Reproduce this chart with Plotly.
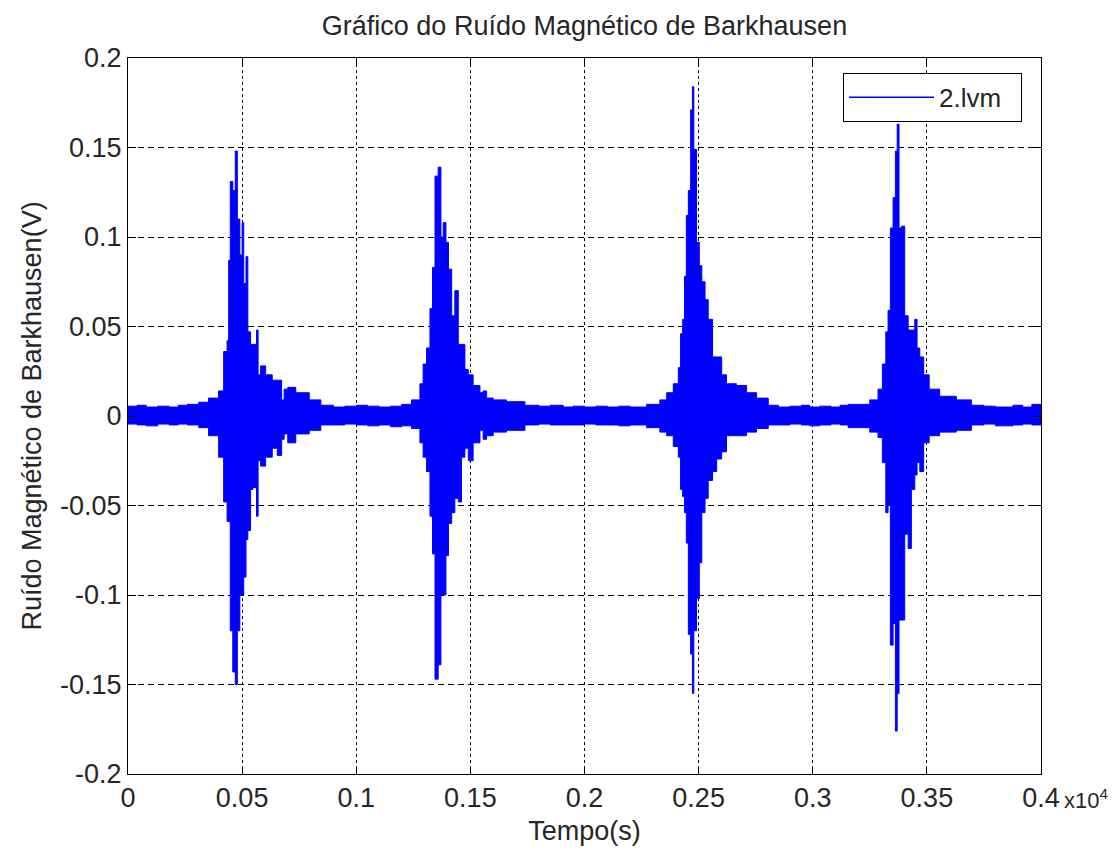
import plotly.graph_objects as go

# Envelope of the Barkhausen noise signal (time in units of 1e4 s as shown)
time_s = [
    0.0000, 0.0040, 0.0080, 0.0130, 0.0180, 0.0220, 0.0260, 0.0310, 0.0353, 0.0397,
    0.0419, 0.0434, 0.0441, 0.0448, 0.0459, 0.0470, 0.0479, 0.0490, 0.0500, 0.0507,
    0.0517, 0.0525, 0.0537, 0.0547, 0.0563, 0.0570, 0.0581, 0.0603, 0.0632, 0.0654,
    0.0673, 0.0684, 0.0700, 0.0735, 0.0794, 0.0845, 0.0900, 0.0950, 0.1000, 0.1050,
    0.1100, 0.1150, 0.1199, 0.1242, 0.1279, 0.1293, 0.1308, 0.1323, 0.1334, 0.1345,
    0.1359, 0.1371, 0.1381, 0.1393, 0.1404, 0.1418, 0.1432, 0.1447, 0.1461, 0.1476,
    0.1491, 0.1512, 0.1542, 0.1556, 0.1571, 0.1600, 0.1658, 0.1739, 0.1800, 0.1850,
    0.1907, 0.1950, 0.2000, 0.2050, 0.2100, 0.2150, 0.2200, 0.2272, 0.2330, 0.2360,
    0.2389, 0.2411, 0.2421, 0.2430, 0.2438, 0.2446, 0.2455, 0.2465, 0.2473, 0.2479,
    0.2491, 0.2503, 0.2514, 0.2528, 0.2542, 0.2561, 0.2579, 0.2601, 0.2622, 0.2666,
    0.2710, 0.2754, 0.2805, 0.2850, 0.2900, 0.2950, 0.2987, 0.3030, 0.3080, 0.3120,
    0.3155, 0.3250, 0.3286, 0.3305, 0.3320, 0.3330, 0.3340, 0.3352, 0.3362, 0.3370,
    0.3378, 0.3388, 0.3403, 0.3418, 0.3432, 0.3447, 0.3457, 0.3469, 0.3486, 0.3510,
    0.3556, 0.3629, 0.3695, 0.3750, 0.3800, 0.3877, 0.3920, 0.3960, 0.4000,
]

upper_v = [
    0.0055, 0.0060, 0.0050, 0.0055, 0.0050, 0.0060, 0.0065, 0.0077, 0.0100, 0.0140,
    0.0360, 0.0420, 0.0870, 0.1310, 0.1260, 0.1480, 0.1100, 0.0900, 0.1080, 0.0740,
    0.0890, 0.0470, 0.0400, 0.0400, 0.0480, 0.0230, 0.0280, 0.0230, 0.0200, 0.0200,
    0.0090, 0.0150, 0.0160, 0.0130, 0.0090, 0.0060, 0.0050, 0.0055, 0.0060, 0.0055,
    0.0050, 0.0055, 0.0065, 0.0090, 0.0180, 0.0290, 0.0380, 0.0600, 0.0830, 0.1340,
    0.1390, 0.1000, 0.1080, 0.0970, 0.0820, 0.0560, 0.0700, 0.0400, 0.0400, 0.0260,
    0.0230, 0.0170, 0.0130, 0.0140, 0.0100, 0.0090, 0.0080, 0.0060, 0.0055, 0.0060,
    0.0050, 0.0055, 0.0050, 0.0055, 0.0050, 0.0055, 0.0050, 0.0065, 0.0090, 0.0130,
    0.0180, 0.0270, 0.0460, 0.0540, 0.0780, 0.1120, 0.1260, 0.1710, 0.1840, 0.1490,
    0.0970, 0.0840, 0.0750, 0.0650, 0.0540, 0.0330, 0.0330, 0.0230, 0.0180, 0.0170,
    0.0130, 0.0100, 0.0060, 0.0050, 0.0055, 0.0060, 0.0050, 0.0055, 0.0050, 0.0060,
    0.0065, 0.0090, 0.0150, 0.0290, 0.0470, 0.0590, 0.1050, 0.1220, 0.1480, 0.1630,
    0.1050, 0.1060, 0.0560, 0.0480, 0.0480, 0.0540, 0.0380, 0.0330, 0.0230, 0.0150,
    0.0110, 0.0090, 0.0060, 0.0055, 0.0050, 0.0060, 0.0050, 0.0065, 0.0060,
]

lower_v = [
    -0.0045, -0.0050, -0.0055, -0.0045, -0.0050, -0.0045, -0.0050, -0.0065, -0.0110, -0.0230,
    -0.0480, -0.0590, -0.0590, -0.1200, -0.1430, -0.1500, -0.1200, -0.1000, -0.1000, -0.0900,
    -0.0690, -0.0640, -0.0410, -0.0400, -0.0560, -0.0250, -0.0280, -0.0230, -0.0180, -0.0220,
    -0.0130, -0.0100, -0.0150, -0.0100, -0.0080, -0.0050, -0.0050, -0.0045, -0.0050, -0.0055,
    -0.0050, -0.0060, -0.0055, -0.0070, -0.0150, -0.0230, -0.0310, -0.0560, -0.0770, -0.1470,
    -0.1390, -0.1000, -0.1000, -0.0780, -0.0600, -0.0540, -0.0460, -0.0480, -0.0230, -0.0180,
    -0.0250, -0.0150, -0.0080, -0.0130, -0.0110, -0.0090, -0.0080, -0.0050, -0.0045, -0.0050,
    -0.0050, -0.0050, -0.0045, -0.0050, -0.0050, -0.0055, -0.0050, -0.0065, -0.0090, -0.0110,
    -0.0170, -0.0230, -0.0410, -0.0450, -0.0540, -0.0710, -0.1220, -0.1330, -0.1550, -0.1200,
    -0.1020, -0.0820, -0.0540, -0.0460, -0.0360, -0.0310, -0.0240, -0.0200, -0.0110, -0.0110,
    -0.0090, -0.0070, -0.0050, -0.0050, -0.0045, -0.0050, -0.0055, -0.0050, -0.0045, -0.0050,
    -0.0065, -0.0090, -0.0120, -0.0260, -0.0540, -0.0500, -0.1280, -0.1160, -0.1760, -0.1550,
    -0.1140, -0.1140, -0.0660, -0.0740, -0.0410, -0.0330, -0.0260, -0.0310, -0.0150, -0.0110,
    -0.0090, -0.0080, -0.0050, -0.0045, -0.0055, -0.0050, -0.0045, -0.0050, -0.0050,
]

assert len(time_s) == len(upper_v) == len(lower_v)

x_tickvals = [0, 0.05, 0.1, 0.15, 0.2, 0.25, 0.3, 0.35, 0.4]
x_ticktext = ["0", "0.05", "0.1", "0.15", "0.2", "0.25", "0.3", "0.35", "0.4"]
y_tickvals = [-0.2, -0.15, -0.1, -0.05, 0, 0.05, 0.1, 0.15, 0.2]
y_ticktext = ["-0.2", "-0.15", "-0.1", "-0.05", "0", "0.05", "0.1", "0.15", "0.2"]

BLUE = "#0000FF"
FONT = "Liberation Sans, Arial, Helvetica, sans-serif"
TXT = "#262626"
FS = 27

fig = go.Figure()
fig.add_trace(go.Scatter(
    x=time_s, y=lower_v, mode="lines", line=dict(color=BLUE, width=1, shape="hv"),
    showlegend=False, hoverinfo="skip",
))
fig.add_trace(go.Scatter(
    x=time_s, y=upper_v, mode="lines", line=dict(color=BLUE, width=1, shape="hv"),
    fill="tonexty", fillcolor=BLUE, showlegend=False, hoverinfo="skip",
))
fig.add_trace(go.Scatter(
    x=[None], y=[None], mode="lines", name="2.lvm&nbsp;&nbsp;",
    line=dict(color=BLUE, width=1.5), showlegend=True,
))

axis_common = dict(
    showline=True, linecolor="black", linewidth=1, mirror="allticks",
    ticks="inside", ticklen=8, tickcolor="black", tickwidth=1,
    showgrid=True, gridcolor="black", gridwidth=1,
    zeroline=False, tickfont=dict(family=FONT, size=FS, color=TXT),
)

fig.update_layout(
    width=1115, height=852,
    margin=dict(l=128, r=74, t=58, b=76),
    paper_bgcolor="white", plot_bgcolor="white",
    font=dict(family=FONT, size=FS, color=TXT),
    title=dict(text="Gráfico do Ruído Magnético de Barkhausen", x=0.5, xref="paper",
               xanchor="center", y=1 - 26 / 852, yref="container", yanchor="middle",
               font=dict(family=FONT, size=FS, color=TXT)),
    xaxis=dict(range=[0, 0.4], tickvals=x_tickvals, ticktext=x_ticktext,
               griddash="3px,3px",
               title=dict(text="Tempo(s)", standoff=8, font=dict(family=FONT, size=FS, color=TXT)),
               **axis_common),
    yaxis=dict(range=[-0.2, 0.2], tickvals=y_tickvals, ticktext=y_ticktext,
               griddash="6px,4px",
               title=dict(text="Ruído Magnético de Barkhausen(V)", standoff=10,
                          font=dict(family=FONT, size=FS, color=TXT)),
               **axis_common),
    legend=dict(x=(1022 - 128) / 913, y=(776 - 73) / 718, xanchor="right", yanchor="top",
                bgcolor="white", bordercolor="black", borderwidth=1,
                font=dict(family=FONT, size=26, color=TXT), itemwidth=85),
    annotations=[dict(
        text="x10<sup>4</sup>", xref="paper", yref="paper",
        x=(1062 - 128) / 913, y=(776 - 801) / 718, xanchor="left", yanchor="middle",
        showarrow=False, font=dict(family=FONT, size=22, color=TXT),
    )],
)

fig.write_html("out.html")
